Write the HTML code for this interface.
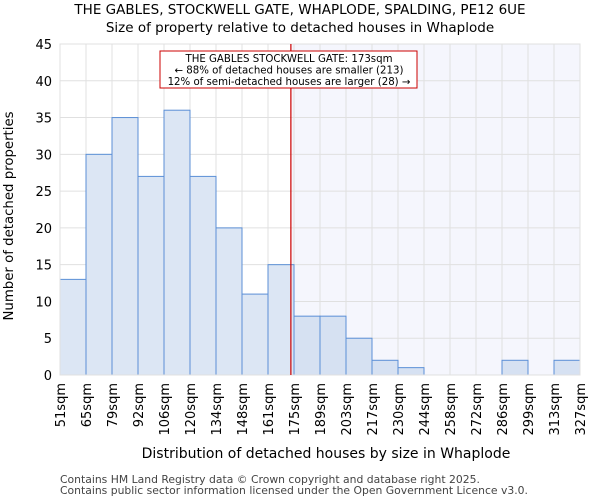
<!DOCTYPE html>
<html><head><meta charset="utf-8"><style>
body{margin:0;background:#fff;font-family:"DejaVu Sans","Liberation Sans",sans-serif;}
</style></head><body>
<svg id="chart" width="600" height="500" xmlns="http://www.w3.org/2000/svg" font-family="DejaVu Sans, Liberation Sans, sans-serif">
<text x="300" y="14" text-anchor="middle" font-size="13.5">THE GABLES, STOCKWELL GATE, WHAPLODE, SPALDING, PE12 6UE</text>
<text x="300" y="32" text-anchor="middle" font-size="13.5">Size of property relative to detached houses in Whaplode</text>
<g id="plot"></g>
<text x="326" y="458" text-anchor="middle" font-size="14">Distribution of detached houses by size in Whaplode</text>
<text transform="translate(13,216) rotate(-90)" text-anchor="middle" font-size="13.3">Number of detached properties</text>
<text x="60" y="483" font-size="10.8" fill="#444">Contains HM Land Registry data © Crown copyright and database right 2025.</text>
<text x="60" y="494" font-size="10.8" fill="#444">Contains public sector information licensed under the Open Government Licence v3.0.</text>
</svg>
<script>
const binLabels=["51sqm","65sqm","79sqm","92sqm","106sqm","120sqm","134sqm","148sqm","161sqm","175sqm","189sqm","203sqm","217sqm","230sqm","244sqm","258sqm","272sqm","286sqm","299sqm","313sqm","327sqm"];
const counts=[13,30,35,27,36,27,20,11,15,8,8,5,2,1,0,0,0,2,0,2];
const yTicks=[0,5,10,15,20,25,30,35,40,45];
const subjectBinPos=[8.88];
const NS="http://www.w3.org/2000/svg";
const X0=60,X1=580,Y0=375,Y1=44,YMAX=45;
const nb=binLabels.length-1, bw=(X1-X0)/nb;
const xs=i=>X0+i*bw, ys=v=>Y0-(v/YMAX)*(Y0-Y1);
const g=document.getElementById('plot');
function el(t,a){const e=document.createElementNS(NS,t);for(const k in a)e.setAttribute(k,a[k]);g.appendChild(e);return e;}
const sx=xs(subjectBinPos[0]);
let e=el('rect',{x:sx,y:Y1,width:X1-sx,height:Y0-Y1,fill:'#f5f6fd'});


for(let i=0;i<=nb;i++){e=el('line',{x1:xs(i),x2:xs(i),y1:Y1,y2:Y0,stroke:'#e0e0e0'});

}
yTicks.forEach(v=>{e=el('line',{x1:X0,x2:X1,y1:ys(v),y2:ys(v),stroke:'#e0e0e0'});


const t=el('text',{x:X0-8,y:ys(v)+5,'text-anchor':'end','font-size':'13'});t.textContent=v;

});
counts.forEach((c,i)=>{if(c<=0)return;e=el('rect',{x:xs(i),y:ys(c),width:bw,height:Y0-ys(c),fill:xs(i)>=sx?'#d6e1f2':'#dce6f4',stroke:'#5b8fd6','stroke-width':1});

});
e=el('rect',{x:X0,y:Y1,width:X1-X0,height:Y0-Y1,fill:'none',stroke:'#e0e0e0'});


binLabels.forEach((l,i)=>{const t=el('text',{transform:`translate(${xs(i)+5},383) rotate(-90)`,'text-anchor':'end','font-size':'13'});t.textContent=l;

});
e=el('line',{x1:sx,x2:sx,y1:Y1,y2:Y0,stroke:'#cc0000','stroke-width':1.2});


e=el('rect',{x:160,y:51,width:257,height:37,fill:'#fff',stroke:'#cc0000','stroke-width':1});


["THE GABLES STOCKWELL GATE: 173sqm","← 88% of detached houses are smaller (213)","12% of semi-detached houses are larger (28) →"].forEach((s,i)=>{const t=el('text',{x:289,y:62+i*11.5,'text-anchor':'middle','font-size':'10.2'});t.textContent=s;

});
</script>
</body></html>
